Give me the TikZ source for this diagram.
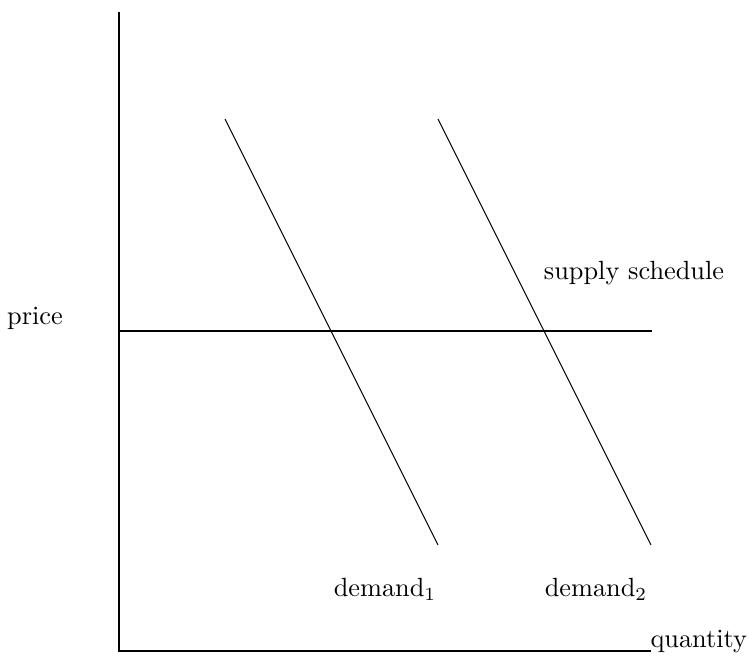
\documentclass[tikz,border=0pt]{standalone}
\usepackage{tikz}
\usetikzlibrary{positioning}

\begin{document}
\begin{tikzpicture}[x=0.3915pt, y=-0.3915pt,
  axis/.style={line width=0.8pt},
  curve/.style={line width=0.4pt},
  every node/.style={scale=1.03}]
  \useasboundingbox (0,0) rectangle (749,656);
  % axes
  \coordinate (top) at (119,12);
  \coordinate (origin) at (119,651);
  \coordinate (qend) at (651,651);
  \draw[axis] (top) -- (origin) -- (qend);
  \node[anchor=base west, inner sep=0pt] (qlabel) at (650,647) {quantity};
  % supply schedule: flat
  \coordinate (s0) at (119,331);
  \coordinate (s1) at (652,331);
  \draw[axis] (s0) -- (s1);
  \node (plabel) at (35,318) {price};
  \node (slabel) at (634,273) {supply schedule};
  % demand curves
  \coordinate (d1a) at (225,119);
  \coordinate (d1b) at (438,545);
  \coordinate (d2a) at (438,119);
  \coordinate (d2b) at (651,545);
  \draw[curve] (d1a) -- (d1b);
  \draw[curve] (d2a) -- (d2b);
  \node (dlabel1) at (385,589) {demand$_1$};
  \node (dlabel2) at (596,589) {demand$_2$};
\end{tikzpicture}
\end{document}
